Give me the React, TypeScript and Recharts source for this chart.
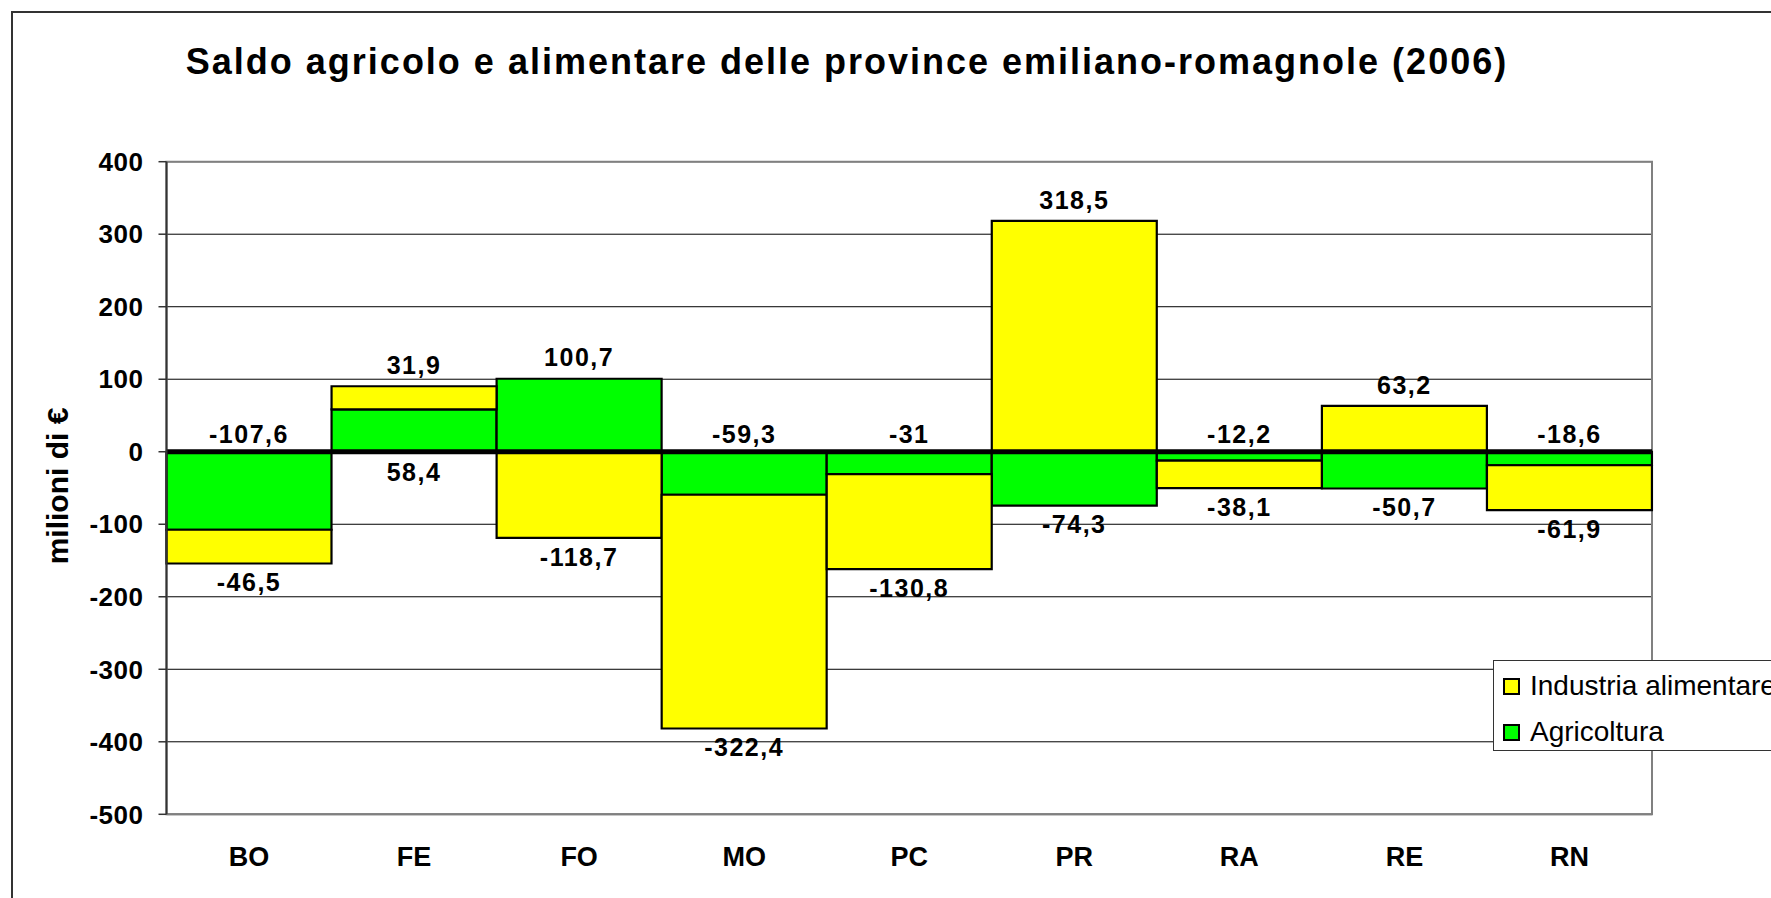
import React from 'react';
import { BarChart, Bar, XAxis, YAxis, CartesianGrid, ReferenceLine, ReferenceArea, LabelList } from 'recharts';

const FONT = "'Liberation Sans', Arial, sans-serif";

const province = ['BO', 'FE', 'FO', 'MO', 'PC', 'PR', 'RA', 'RE', 'RN'];
const agricoltura = [-107.6, 58.4, 100.7, -59.3, -31, -74.3, -12.2, -50.7, -18.6];
const industria = [-46.5, 31.9, -118.7, -322.4, -130.8, 318.5, -38.1, 63.2, -61.9];
const yTicks = [400, 300, 200, 100, 0, -100, -200, -300, -400, -500];

const data = province.map((p, i) => ({
  provincia: p,
  agricoltura: agricoltura[i],
  industria: industria[i],
}));

const series = [
  { key: 'industria', name: 'Industria alimentare', color: '#FFFF00' },
  { key: 'agricoltura', name: 'Agricoltura', color: '#00FF00' },
];

const fmt = (v: number) => String(v).replace('.', ',');

const labelStyle = { fontFamily: FONT, fontWeight: 700, fontSize: 25, letterSpacing: 1.5, fill: '#000' };

// bar edges from the rect recharts gives the label
const edges = (props: any) => {
  const vb = props.viewBox ?? props;
  const x = Number(vb.x), y = Number(vb.y), w = Number(vb.width), h = Number(vb.height);
  return { cx: x + w / 2, top: Math.min(y, y + h), bottom: Math.max(y, y + h) };
};

const AgriLabel = (props: any) => {
  const i = props.index;
  const a = agricoltura[i];
  const ind = industria[i];
  const { cx, top, bottom } = edges(props);
  let cy;
  if (Math.sign(a) === Math.sign(ind)) {
    // stacked under the other series: put it on the other side of zero
    cy = a < 0 ? top - 17 : bottom + 21;
  } else {
    cy = a < 0 ? bottom + 19 : top - 21;
  }
  return (
    <text x={cx} y={cy} dy="0.35em" textAnchor="middle" style={labelStyle}>
      {fmt(a)}
    </text>
  );
};

const IndLabel = (props: any) => {
  const v = industria[props.index];
  const { cx, top, bottom } = edges(props);
  const cy = v < 0 ? bottom + 19 : top - 21;
  return (
    <text x={cx} y={cy} dy="0.35em" textAnchor="middle" style={labelStyle}>
      {fmt(v)}
    </text>
  );
};

const YTitle = (props: any) => {
  const vb = props.viewBox;
  const x = vb.x - 9.5;
  const y = vb.y + vb.height / 2 - 2;
  return (
    <text
      x={x}
      y={y}
      dy="0.35em"
      textAnchor="middle"
      transform={`rotate(-90 ${x} ${y})`}
      style={{ fontFamily: FONT, fontWeight: 700, fontSize: 30, fill: '#000' }}
    >
      milioni di €
    </text>
  );
};

export default function App() {
  return (
    <div style={{ position: 'fixed', left: 0, top: 0, width: 1771, height: 898, overflow: 'hidden', background: '#fff' }}>
      <div style={{ position: 'absolute', left: 11, top: 11, width: 1900, height: 1000, border: '2px solid #333' }} />
      <div style={{ position: 'absolute', left: 0, top: 0 }}>
        <BarChart
          width={1771}
          height={898}
          data={data}
          stackOffset="sign"
          barCategoryGap={0}
          margin={{ top: 161.7, right: 119, bottom: 23.7, left: 66.5 }}
        >
          <CartesianGrid vertical={false} stroke="#000" strokeWidth={1} />
          <ReferenceArea y1={-500} y2={400} fill="none" stroke="#808080" strokeWidth={2} ifOverflow="visible" />
          <XAxis
            dataKey="provincia"
            interval={0}
            height={60}
            axisLine={{ stroke: '#808080', strokeWidth: 2 }}
            tickLine={false}
            tickSize={0}
            tickMargin={33}
            tick={{ fontFamily: FONT, fontWeight: 700, fontSize: 27, fill: '#000' }}
          />
          <YAxis
            domain={[-500, 400]}
            ticks={yTicks}
            interval={0}
            width={100}
            axisLine={{ stroke: '#333', strokeWidth: 2 }}
            tickLine={{ stroke: '#333', strokeWidth: 1.5 }}
            tickSize={8}
            tickMargin={15}
            tick={{ fontFamily: FONT, fontWeight: 700, fontSize: 26, letterSpacing: 0.5, fill: '#000' }}
            label={{ value: 'milioni di €', content: YTitle }}
          />
          <Bar dataKey="agricoltura" stackId="s" fill="#00FF00" stroke="#000" strokeWidth={2.2} isAnimationActive={false}>
            <LabelList dataKey="agricoltura" content={AgriLabel} />
          </Bar>
          <Bar dataKey="industria" stackId="s" fill="#FFFF00" stroke="#000" strokeWidth={2.2} isAnimationActive={false}>
            <LabelList dataKey="industria" content={IndLabel} />
          </Bar>
          <ReferenceLine y={0} stroke="#000" strokeWidth={5} />
        </BarChart>
      </div>
      <div
        style={{
          position: 'absolute',
          left: 0,
          top: 44,
          width: 1694,
          textAlign: 'center',
          fontFamily: FONT,
          fontWeight: 700,
          fontSize: 36,
          lineHeight: '36px',
          letterSpacing: 2,
          whiteSpace: 'nowrap',
          color: '#000',
        }}
      >
        Saldo agricolo e alimentare delle province emiliano-romagnole (2006)
      </div>
      <div
        style={{
          position: 'absolute',
          left: 1493,
          top: 660,
          width: 400,
          height: 89,
          border: '1.5px solid #333',
          background: '#fff',
          fontFamily: FONT,
          fontSize: 28,
          color: '#000',
        }}
      >
        {series.map((s, i) => (
          <div key={s.key} style={{ position: 'absolute', left: 9, top: 8 + i * 46, height: 34, display: 'flex', alignItems: 'center', whiteSpace: 'nowrap' }}>
            <span style={{ display: 'inline-block', width: 13, height: 13, background: s.color, border: '2px solid #000', marginRight: 10 }} />
            <span>{s.name}</span>
          </div>
        ))}
      </div>
    </div>
  );
}
